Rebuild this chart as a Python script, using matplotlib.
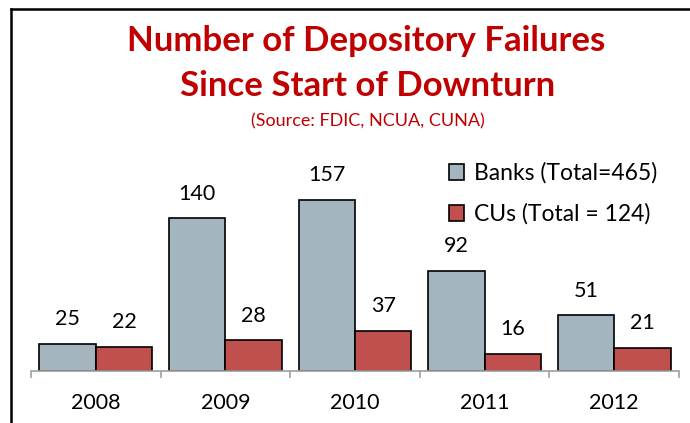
import matplotlib
matplotlib.use("Agg")
import matplotlib.pyplot as plt
from matplotlib.lines import Line2D
import numpy as np

# datos
years = ["2008", "2009", "2010", "2011", "2012"]
banks = [25, 140, 157, 92, 51]
cus = [22, 28, 37, 16, 21]
bank_label = "Banks (Total=465)"
cu_label = "CUs (Total = 124)"

plt.rcParams['font.family'] = ['Lato', 'DejaVu Sans']

W, H = 690, 423
fig = plt.figure(figsize=(W / 100, H / 100), dpi=100)

# marco negro (izquierda y arriba)
fig.add_artist(Line2D([11 / W, 11 / W], [0, 1 - 9 / H], color="black", lw=1.8,
                      transform=fig.transFigure))
fig.add_artist(Line2D([11 / W, 1], [1 - 9 / H, 1 - 9 / H], color="black", lw=1.8,
                      transform=fig.transFigure))

ax = fig.add_axes([31 / W, 52 / H, 648 / W, 231 / H])
x = np.arange(len(years))
w = 0.435
b1 = ax.bar(x - w / 2, banks, w, color="#A5B5C0", edgecolor="black", lw=1.2,
            label=bank_label)
b2 = ax.bar(x + w / 2, cus, w, color="#C0504D", edgecolor="black", lw=1.2,
            label=cu_label)

for bars, vals in [(b1, banks), (b2, cus)]:
    for r, v in zip(bars, vals):
        ax.annotate(str(v), (r.get_x() + r.get_width() / 2, v),
                    xytext=(0, 13.5), textcoords="offset points",
                    ha="center", va="baseline", fontsize=15.5)

ax.set_xlim(-0.5, len(years) - 0.5)
ax.set_ylim(0, 231 / 1.0907)
ax.set_yticks([])
ax.set_xticks(x)
ax.set_xticklabels(years, fontsize=15.5)
ax.set_xticks(np.arange(len(years) + 1) - 0.5, minor=True)
ax.tick_params(axis="x", which="major", length=0, pad=16)
ax.tick_params(axis="x", which="minor", length=5, width=1.2, color="#A0A0A0",
               direction="out")
for s in ["top", "right", "left"]:
    ax.spines[s].set_visible(False)
ax.spines["bottom"].set_color("#A0A0A0")
ax.spines["bottom"].set_linewidth(1.2)

leg = ax.legend(loc="upper left", bbox_to_anchor=(438 / W, 1 - 151 / H),
                bbox_transform=fig.transFigure, frameon=False, fontsize=16.5,
                handlelength=0.65, handleheight=0.65, handletextpad=0.4,
                labelspacing=0.85, borderpad=0)

red = "#C00000"
fig.text(366 / W, 1 - 51 / H, "Number of Depository Failures", color=red,
         fontsize=25, fontweight="bold", ha="center", va="baseline")
fig.text(368 / W, 1 - 96 / H, "Since Start of Downturn", color=red,
         fontsize=25, fontweight="bold", ha="center", va="baseline")
fig.text(368 / W, 1 - 126 / H, "(Source: FDIC, NCUA, CUNA)", color=red,
         fontsize=13, ha="center", va="baseline")

fig.savefig("out.png", dpi=100)
